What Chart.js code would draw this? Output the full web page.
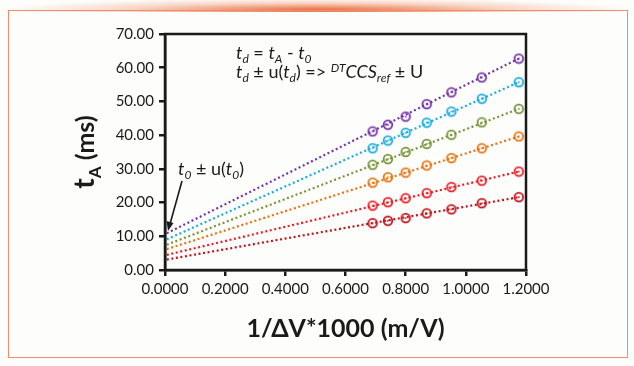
<!DOCTYPE html>
<html lang="en">
<head>
  <meta charset="UTF-8">
  <title>tA vs 1/ΔV</title>
  <script src="https://cdn.jsdelivr.net/npm/chart.js"></script>
  <style>
    body { margin: 0; background: #fdfdfb; font-family: Lato, sans-serif; }
    #wrap { position: relative; width: 634px; height: 366px; overflow: hidden; }
    .glow { position: absolute; left: 0; top: 0; width: 634px; height: 12px;
      background: radial-gradient(ellipse 50% 100% at 50% 85%, rgba(232,98,48,0.95), rgba(240,140,100,0.35) 60%, rgba(253,253,251,0) 100%); }
    .frame { position: absolute; left: 8px; top: 10px; width: 618px; height: 346px; border: 1.5px solid #ef8c6a; }
    canvas { position: absolute; left: 0; top: 0; }
  </style>
</head>
<body>
<div id="wrap">
  <div class="glow"></div>
  <div class="frame"></div>
  <canvas id="grafico" width="634" height="366"></canvas>
</div>

<script>
  // 1/ΔV*1000 (m/V)
  const xValues = [0.690, 0.741, 0.800, 0.870, 0.952, 1.053, 1.176];

  // tA (ms), top series first
  const purple  = [41.1, 43.1, 45.5, 49.2, 52.7, 57.1, 62.7];
  const cyan    = [36.1, 38.4, 40.7, 43.7, 47.0, 50.8, 55.7];
  const green   = [31.2, 32.9, 35.0, 37.4, 40.1, 43.8, 47.8];
  const orange  = [25.9, 27.5, 28.9, 31.0, 33.2, 36.1, 39.6];
  const red     = [19.1, 20.1, 21.3, 22.8, 24.6, 26.5, 29.2];
  const darkRed = [13.9, 14.6, 15.4, 16.8, 18.0, 19.8, 21.6];

  // where the dotted fit lines start near x = 0
  const fitStart = [10.9, 9.1, 7.5, 6.2, 4.5, 3.1];

  const seriesList = [purple, cyan, green, orange, red, darkRed];
  const colores = ['#7434a8', '#16ace0', '#78953a', '#e8730f', '#ee1c24', '#c3121b'];

  const xTicks = [0, 0.2, 0.4, 0.6, 0.8, 1.0, 1.2];
  const yTicks = [0, 10, 20, 30, 40, 50, 60, 70];

  function marcador(color) {
    const c = document.createElement('canvas');
    c.width = 12; c.height = 12;
    const g = c.getContext('2d');
    g.strokeStyle = color;
    g.lineWidth = 1.8;
    g.fillStyle = '#ffffff';
    g.beginPath(); g.arc(6, 6, 4.3, 0, Math.PI * 2); g.fill(); g.stroke();
    g.fillStyle = color;
    g.beginPath(); g.arc(6, 6, 0.9, 0, Math.PI * 2); g.fill();
    return c;
  }

  const datasets = [];
  seriesList.forEach((serie, i) => {
    datasets.push({
      data: [{ x: 0.006, y: fitStart[i] }, { x: xValues[xValues.length - 1], y: serie[serie.length - 1] }],
      borderColor: colores[i],
      borderWidth: 2.2,
      borderDash: [2, 2.6],
      pointRadius: 0,
      showLine: true,
      fill: false
    });
    datasets.push({
      data: serie.map((y, k) => ({ x: xValues[k], y: y })),
      showLine: false,
      pointStyle: marcador(colores[i]),
      pointRadius: 6,
      borderColor: colores[i]
    });
  });

  function texto(ctx, partes, x, y) {
    partes.forEach(p => {
      ctx.font = p.font;
      ctx.fillText(p.t, x, y + (p.dy || 0));
      x += ctx.measureText(p.t).width;
    });
  }

  const extras = {
    id: 'extras',
    afterDraw(chart) {
      const ctx = chart.ctx;
      const a = chart.chartArea;
      ctx.save();
      ctx.strokeStyle = '#1a1a1a';
      ctx.lineWidth = 2.5;
      ctx.strokeRect(a.left, a.top, a.right - a.left, a.bottom - a.top);

      ctx.fillStyle = '#1a1a1a';
      ctx.textBaseline = 'alphabetic';
      ctx.textAlign = 'left';
      const it = 'italic 18px Lato';
      const itS = 'italic 12px Lato';
      const rg = '18px Lato';
      texto(ctx, [
        { t: 't', font: it }, { t: 'd', font: itS, dy: 4 }, { t: ' = ', font: rg },
        { t: 't', font: it }, { t: 'A', font: itS, dy: 4 }, { t: ' - ', font: rg },
        { t: 't', font: it }, { t: '0', font: itS, dy: 4 }
      ], 236, 59);
      texto(ctx, [
        { t: 't', font: it }, { t: 'd', font: itS, dy: 4 }, { t: ' ± u(', font: rg },
        { t: 't', font: it }, { t: 'd', font: itS, dy: 4 }, { t: ') => ', font: rg },
        { t: 'DT', font: itS, dy: -6 }, { t: 'CCS', font: it }, { t: 'ref', font: itS, dy: 4 },
        { t: ' ± U', font: rg }
      ], 236, 78);
      texto(ctx, [
        { t: 't', font: it }, { t: '0', font: itS, dy: 4 }, { t: ' ± u(', font: rg },
        { t: 't', font: it }, { t: '0', font: itS, dy: 4 }, { t: ')', font: rg }
      ], 178, 175);

      // flecha
      ctx.strokeStyle = '#1a1a1a';
      ctx.lineWidth = 1.6;
      ctx.beginPath(); ctx.moveTo(182, 181); ctx.lineTo(170, 224); ctx.stroke();
      ctx.beginPath();
      ctx.moveTo(168, 231); ctx.lineTo(166.5, 221); ctx.lineTo(173.5, 223); ctx.closePath(); ctx.fill();

      // titulos de ejes
      ctx.textAlign = 'center';
      ctx.font = 'bold 25px Lato';
      ctx.fillText('1/ΔV*1000 (m/V)', (a.left + a.right) / 2, 337);

      ctx.translate(94, (a.top + a.bottom) / 2);
      ctx.rotate(-Math.PI / 2);
      ctx.textAlign = 'left';
      const partes = [
        { t: 't', font: 'bold 28px Lato' }, { t: 'A', font: 'bold 17px Lato', dy: 7 },
        { t: ' (ms)', font: 'bold 25px Lato' }
      ];
      let w = 0;
      partes.forEach(p => { ctx.font = p.font; w += ctx.measureText(p.t).width; });
      texto(ctx, partes, -w / 2, 0);
      ctx.restore();
    }
  };

  new Chart(document.getElementById('grafico'), {
    type: 'scatter',
    data: { datasets },
    options: {
      responsive: false,
      animation: false,
      layout: { padding: { top: 34, right: 108, left: 0, bottom: 0 } },
      plugins: { legend: { display: false }, tooltip: { enabled: false } },
      scales: {
        x: {
          type: 'linear', min: 0, max: 1.2,
          afterFit: s => { s.height = 96; },
          afterBuildTicks: s => { s.ticks = xTicks.map(v => ({ value: v })); },
          grid: { drawOnChartArea: false, drawTicks: true, tickLength: 6, color: '#1a1a1a', lineWidth: 2.5 },
          border: { color: '#1a1a1a', width: 2.5 },
          ticks: { color: '#1a1a1a', font: { family: 'Lato', size: 15 }, padding: 4, maxRotation: 0,
            callback: v => v.toFixed(4) }
        },
        y: {
          type: 'linear', min: 0, max: 70,
          afterFit: s => { s.width = 165; },
          afterBuildTicks: s => { s.ticks = yTicks.map(v => ({ value: v })); },
          grid: { drawOnChartArea: false, drawTicks: true, tickLength: 6, color: '#1a1a1a', lineWidth: 2.5 },
          border: { color: '#1a1a1a', width: 2.5 },
          ticks: { color: '#1a1a1a', font: { family: 'Lato', size: 15 }, padding: 5,
            callback: v => v.toFixed(2) }
        }
      }
    },
    plugins: [extras]
  });
</script>
</body>
</html>
